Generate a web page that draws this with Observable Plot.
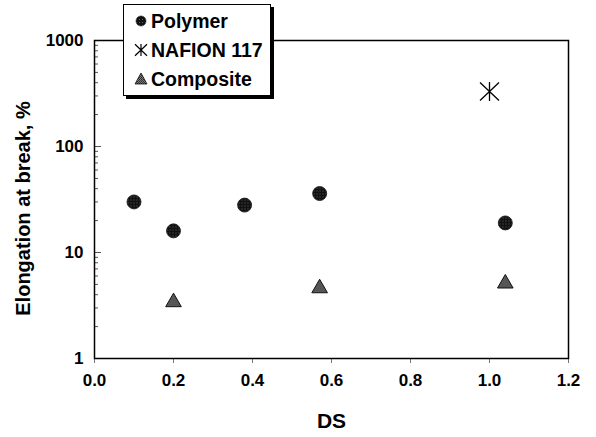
<!DOCTYPE html>
<html>
<head>
<meta charset="utf-8">
<script src="https://cdn.jsdelivr.net/npm/d3@7"></script>
<script src="https://cdn.jsdelivr.net/npm/@observablehq/plot@0.6"></script>
<style>
  body { margin: 0; background: #fff; font-family: "Liberation Sans", Arial, Helvetica, sans-serif; }
  #chart { position: relative; width: 596px; height: 437px; }
  .legend {
    position: absolute; left: 123px; top: 4px; width: 146px; height: 90px;
    border: 1.5px solid #000; background: #fff; box-shadow: 3px 3px 0 #000;
    box-sizing: content-box;
  }
  .legend .row {
    position: absolute; left: 11px; height: 22px; display: flex; align-items: center;
    font-weight: bold; font-size: 19.5px; color: #000; white-space: nowrap;
  }
  .legend .row svg { width: 12px; height: 12px; margin-right: 4px; overflow: visible; }
</style>
</head>
<body>
<div id="chart"></div>
<script>
// Elongation at break (%) against degree of sulfonation (DS)
const seriesNames = ["Polymer", "NAFION 117", "Composite"];

const polymerDS = [0.1, 0.2, 0.38, 0.57, 1.04];
const polymerElongation = [30, 16, 28, 36, 19];

const nafionDS = [1.0];
const nafionElongation = [330];

const compositeDS = [0.2, 0.57, 1.04];
const compositeElongation = [3.4, 4.6, 5.1];

const xTicks = [0, 0.2, 0.4, 0.6, 0.8, 1.0, 1.2];
const yTicks = [1, 10, 100, 1000];
const yMinorTicks = [2, 3, 4, 5, 6, 7, 8, 9, 20, 30, 40, 50, 60, 70, 80, 90, 200, 300, 400, 500, 600, 700, 800, 900];

const xLabel = "DS";
const yLabel = "Elongation at break, %";

const toRows = (xs, ys) => xs.map((x, i) => ({x, y: ys[i]}));
const polymer = toRows(polymerDS, polymerElongation);
const nafion = toRows(nafionDS, nafionElongation);
const composite = toRows(compositeDS, compositeElongation);

// Six-armed star: a vertical bar crossed by an X
const starSymbol = {
  draw(context, size) {
    const r = Math.sqrt(size / Math.PI);
    context.moveTo(0, -r); context.lineTo(0, r);
    context.moveTo(-r, -r * 0.95); context.lineTo(r, r * 0.95);
    context.moveTo(-r, r * 0.95); context.lineTo(r, -r * 0.95);
  }
};

const font = "Liberation Sans, Arial, Helvetica, sans-serif";
const W = 596, H = 437;
const mL = 94, mR = 28, mT = 40, mB = 79;
const frameWidth = W - mL - mR;

const chart = Plot.plot({
  width: W,
  height: H,
  marginLeft: mL,
  marginRight: mR,
  marginTop: mT,
  marginBottom: mB,
  style: {fontFamily: font, background: "white", color: "black"},
  x: {domain: [0, 1.2]},
  y: {type: "log", domain: [1, 1000]},
  marks: [
    Plot.axisX({
      ticks: xTicks, tickFormat: (d) => d.toFixed(1), tickSize: 5, tickPadding: 10,
      stroke: "#777", fill: "black", fontSize: 17, fontWeight: "bold", label: null
    }),
    Plot.axisY({
      ticks: yTicks, tickFormat: d3.format("d"), tickSize: 0, tickPadding: 11,
      fill: "black", fontSize: 17, fontWeight: "bold", label: null
    }),
    // inward ticks along the left edge of the frame
    Plot.tickY(yMinorTicks, {y: (d) => d, insetRight: frameWidth - 4, stroke: "#555", strokeWidth: 1}),
    Plot.tickY(yTicks, {y: (d) => d, insetRight: frameWidth - 7, stroke: "#555", strokeWidth: 1}),
    Plot.frame({stroke: "black", strokeWidth: 1.5}),
    Plot.text([xLabel], {frameAnchor: "bottom", dy: 63, lineAnchor: "middle", textAnchor: "middle", fontSize: 21, fontWeight: "bold", fill: "black"}),
    Plot.text([yLabel], {frameAnchor: "left", dx: -71, dy: 9, rotate: -90, textAnchor: "middle", lineAnchor: "middle", fontSize: 20, fontWeight: "bold", fill: "black"}),
    Plot.dot(polymer, {x: "x", y: "y", symbol: "circle", r: 7, fill: "url(#dotTexture)", stroke: "#111", strokeWidth: 0.8}),
    Plot.dot(nafion, {x: "x", y: "y", symbol: starSymbol, r: 9.5, stroke: "black", strokeWidth: 1.3, fill: "none"}),
    Plot.dot(composite, {x: "x", y: "y", symbol: "triangle", r: 5.8, fill: "url(#triTexture)", stroke: "#111", strokeWidth: 1})
  ]
});

// Halftone fills for the circle and triangle markers
const defs = d3.select(chart).insert("defs", ":first-child");
const p1 = defs.append("pattern").attr("id", "dotTexture").attr("patternUnits", "userSpaceOnUse").attr("width", 3).attr("height", 3);
p1.append("rect").attr("width", 3).attr("height", 3).attr("fill", "#111");
p1.append("rect").attr("x", 1).attr("y", 1).attr("width", 1).attr("height", 1).attr("fill", "#666");
const p2 = defs.append("pattern").attr("id", "triTexture").attr("patternUnits", "userSpaceOnUse").attr("width", 2).attr("height", 2);
p2.append("rect").attr("width", 2).attr("height", 2).attr("fill", "#7a7a7a");
p2.append("rect").attr("width", 1).attr("height", 1).attr("fill", "#2a2a2a");
p2.append("rect").attr("x", 1).attr("y", 1).attr("width", 1).attr("height", 1).attr("fill", "#3a3a3a");

const container = document.getElementById("chart");
container.appendChild(chart);

// Legend box overlapping the top of the frame
const legend = document.createElement("div");
legend.className = "legend";
const icons = [
  `<svg viewBox="-6 -6 12 12"><circle r="5" fill="url(#dotTexture)" stroke="#111" stroke-width="0.6"/></svg>`,
  `<svg viewBox="-6 -6 12 12"><path d="M0,-6V6M-6,-5.7L6,5.7M-6,5.7L6,-5.7" stroke="black" stroke-width="1.2" fill="none"/></svg>`,
  `<svg viewBox="-6 -6 12 12"><path d="M0,-6L6,5L-6,5Z" fill="url(#triTexture)" stroke="#111" stroke-width="0.8"/></svg>`
];
const rowTops = [5, 34, 63];
seriesNames.forEach((name, i) => {
  const row = document.createElement("div");
  row.className = "row";
  row.style.top = rowTops[i] + "px";
  row.innerHTML = icons[i] + `<span>${name}</span>`;
  legend.appendChild(row);
});
container.appendChild(legend);
</script>
</body>
</html>
